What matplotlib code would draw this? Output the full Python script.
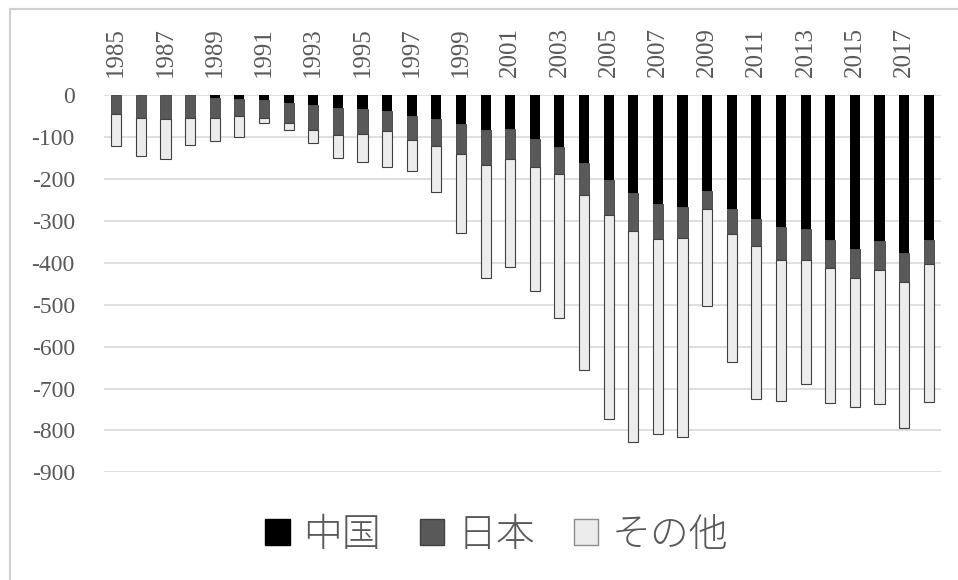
import numpy as np
import matplotlib.pyplot as plt
from matplotlib.patches import Rectangle, Patch

plt.rcParams['axes.unicode_minus'] = False

years = list(range(1985, 2019))
china = [0, 0, 0, 0, 6, 10, 11, 19, 23, 30, 33, 38, 50, 57, 69,
         84, 81, 104, 123, 162, 203, 234, 259, 267, 228, 272, 295,
         315, 319, 345, 368, 348, 376, 345]
japan = [45, 55, 57, 54, 49, 40, 43, 48, 59, 64, 59, 48, 56, 63, 72,
         82, 71, 68, 66, 76, 82, 90, 84, 74, 43, 60, 64,
         78, 74, 68, 68, 68, 69, 57]
other = [76, 89, 94, 64, 53, 50, 11, 17, 33, 56, 67, 84, 74, 110, 187,
         270, 259, 296, 342, 417, 488, 504, 466, 475, 233, 304, 367,
         337, 296, 322, 309, 322, 350, 330]
labels = ['中国', '日本', 'その他']
colors = ['#000000', '#595959', '#ececec']

W, H = 958, 580
fig = plt.figure(figsize=(W / 100, H / 100), dpi=100)
ax = fig.add_axes([104 / W, 1 - 472.3 / H, 837 / W, 377 / H])

x = np.arange(len(years))
c = -np.array(china)
j = -np.array(japan)
o = -np.array(other)
w = 0.41
ax.bar(x, c, w, color=colors[0], zorder=3)
ax.bar(x, j, w, bottom=c, color=colors[1], edgecolor='#404040', linewidth=0.6, zorder=3)
ax.bar(x, o, w, bottom=c + j, color=colors[2], edgecolor='#404040', linewidth=0.8, zorder=3)

ax.set_xlim(-0.5, len(years) - 0.5)
ax.set_ylim(-900, 0)
ax.set_yticks(range(-900, 1, 100))
ax.yaxis.grid(True, color='#d9d9d9', linewidth=1.2, zorder=0)
ax.set_axisbelow(True)
for s in ax.spines.values():
    s.set_visible(False)

ax.xaxis.tick_top()
ax.set_xticks(x[::2])
ax.set_xticklabels([str(y) for y in years[::2]], rotation=90,
                   family='Liberation Serif', fontsize=18, color='#595959')
ax.tick_params(axis='x', length=0, pad=13)
ax.tick_params(axis='y', length=0, pad=21, labelsize=17, labelcolor='#595959')
for t in ax.get_yticklabels():
    t.set_family('Liberation Serif')

handles = [Patch(facecolor=colors[0], edgecolor=colors[0]),
           Patch(facecolor=colors[1], edgecolor='#404040'),
           Patch(facecolor=colors[2], edgecolor='#8c8c8c')]
leg = fig.legend(handles, labels, loc='center', bbox_to_anchor=(497 / W, 1 - 535 / H),
                 ncol=3, frameon=False, handlelength=0.62, handleheight=0.62,
                 handletextpad=0.35, columnspacing=1.0,
                 prop={'family': 'Noto Sans CJK JP', 'size': 28, 'weight': 'light'})
for t in leg.get_texts():
    t.set_color('#595959')

fig.patches.append(Rectangle((10 / W, -0.1), 1.2, 1 - 9 / H + 0.1, transform=fig.transFigure,
                             fill=False, edgecolor='#d0d0d0', linewidth=1.5))

fig.savefig('out.png', dpi=100)
